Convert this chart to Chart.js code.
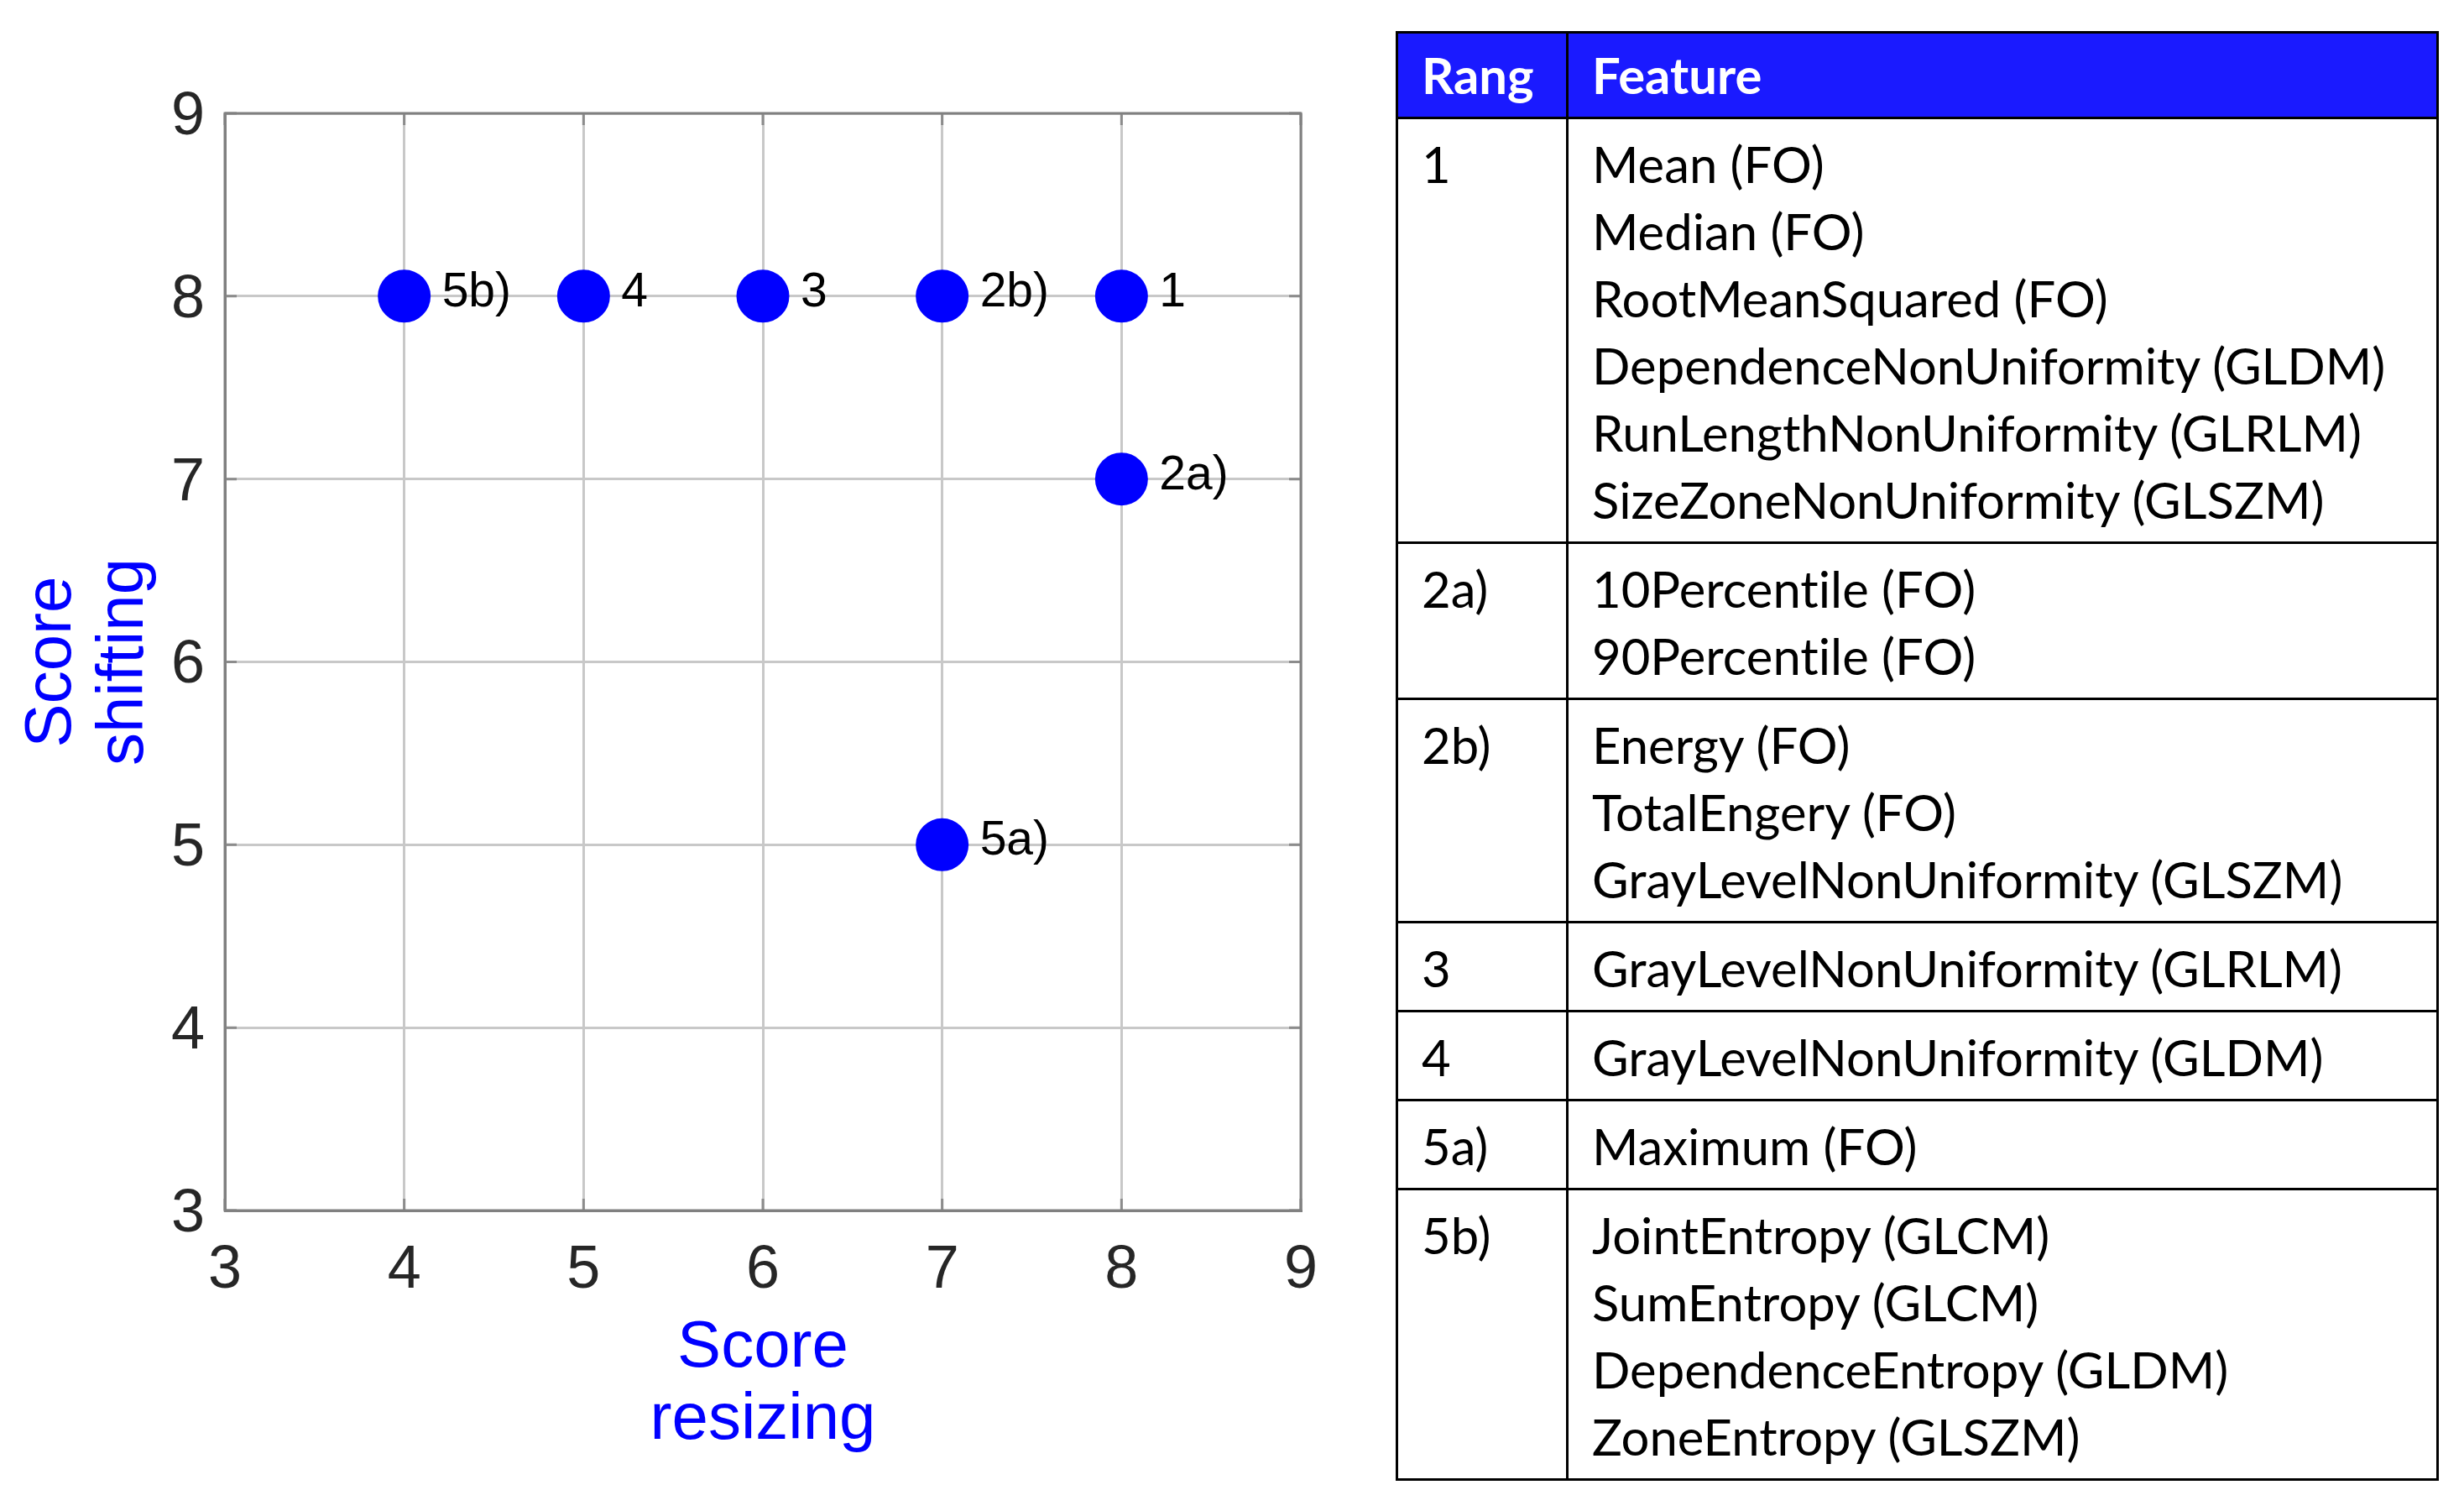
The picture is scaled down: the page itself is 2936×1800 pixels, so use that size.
<!DOCTYPE html>
<html>
<head>
<meta charset="utf-8">
<script src="https://cdn.jsdelivr.net/npm/chart.js@4.4.1/dist/chart.umd.min.js"></script>
<style>
html, body { margin: 0; padding: 0; background: #ffffff; width: 2936px; height: 1800px; overflow: hidden; }
#wrap { position: absolute; left: 0; top: 0; width: 1640px; height: 1800px; }
#tbl { position: absolute; left: 1663px; top: 37px; width: 1243px; border-collapse: collapse; font-family: Lato, "Open Sans", sans-serif; color: #000; font-variant-ligatures: none; }
#tbl th, #tbl td { border: 3px solid #000; text-align: left; vertical-align: top; padding: 13px 28px 10px 28px; line-height: 80px; }
#tbl th { background: #1a1aff; color: #fff; font-weight: bold; height: 99px; padding: 0 28px; vertical-align: middle; line-height: 99px; }
#tbl td.r { width: 144px; }
</style>
</head>
<body>
<div id="wrap"><canvas id="c" width="1640" height="1800"></canvas></div>
<table id="tbl"></table>
<script>
// ---- data ----
const pointLabels   = ['5b)', '4', '3', '2b)', '1', '2a)', '5a)'];
const scoreResizing = [4, 5, 6, 7, 8, 8, 7];
const scoreShifting = [8, 8, 8, 8, 8, 7, 5];
const axisMin = 3, axisMax = 9, axisStep = 1;
const xTitle = ['Score', 'resizing'];
const yTitle = ['Score', 'shifting'];

const tableHeader = ['Rang', 'Feature'];
const rangs = ['1', '2a)', '2b)', '3', '4', '5a)', '5b)'];
const features = [
  ['Mean (FO)', 'Median (FO)', 'RootMeanSquared (FO)', 'DependenceNonUniformity (GLDM)', 'RunLengthNonUniformity (GLRLM)', 'SizeZoneNonUniformity (GLSZM)'],
  ['10Percentile (FO)', '90Percentile (FO)'],
  ['Energy (FO)', 'TotalEngery (FO)', 'GrayLevelNonUniformity (GLSZM)'],
  ['GrayLevelNonUniformity (GLRLM)'],
  ['GrayLevelNonUniformity (GLDM)'],
  ['Maximum (FO)'],
  ['JointEntropy (GLCM)', 'SumEntropy (GLCM)', 'DependenceEntropy (GLDM)', 'ZoneEntropy (GLSZM)']
];

// ---- table ----
(function buildTable() {
  const mctx = document.createElement('canvas').getContext('2d');
  mctx.font = '100px Lato';
  const w = mctx.measureText('DependenceNonUniformity (GLDM)').width;
  const fs = 100 * 946 / w;
  const tbl = document.getElementById('tbl');
  tbl.style.fontSize = fs.toFixed(1) + 'px';
  const hr = document.createElement('tr');
  tableHeader.forEach(h => { const th = document.createElement('th'); th.textContent = h; hr.appendChild(th); });
  tbl.appendChild(hr);
  rangs.forEach((r, i) => {
    const tr = document.createElement('tr');
    const td1 = document.createElement('td'); td1.className = 'r'; td1.textContent = r;
    const td2 = document.createElement('td');
    features[i].forEach((f, k) => {
      if (k) td2.appendChild(document.createElement('br'));
      td2.appendChild(document.createTextNode(f));
    });
    tr.appendChild(td1); tr.appendChild(td2);
    tbl.appendChild(tr);
  });
})();

// ---- chart ----
const FONT = "'Liberation Sans', Arial, Helvetica, sans-serif";

const boxPlugin = {
  id: 'box',
  beforeDatasetsDraw(chart) {
    const { ctx, chartArea: a, scales } = chart;
    ctx.save();
    // inner tick marks
    ctx.strokeStyle = '#8c8c8c';
    ctx.lineWidth = 3;
    const tl = 14;
    scales.x.ticks.forEach(t => {
      const px = scales.x.getPixelForValue(t.value);
      ctx.beginPath();
      ctx.moveTo(px, a.bottom); ctx.lineTo(px, a.bottom - tl);
      ctx.moveTo(px, a.top); ctx.lineTo(px, a.top + tl);
      ctx.stroke();
    });
    scales.y.ticks.forEach(t => {
      const py = scales.y.getPixelForValue(t.value);
      ctx.beginPath();
      ctx.moveTo(a.left, py); ctx.lineTo(a.left + tl, py);
      ctx.moveTo(a.right, py); ctx.lineTo(a.right - tl, py);
      ctx.stroke();
    });
    // box
    ctx.strokeStyle = '#808080';
    ctx.lineWidth = 3;
    ctx.strokeRect(a.left, a.top, a.right - a.left, a.bottom - a.top);
    ctx.restore();
  }
};

const labelPlugin = {
  id: 'pointLabels',
  afterDatasetsDraw(chart) {
    const { ctx } = chart;
    const meta = chart.getDatasetMeta(0);
    ctx.save();
    ctx.fillStyle = '#000000';
    ctx.font = '57px ' + FONT;
    ctx.textAlign = 'left';
    ctx.textBaseline = 'alphabetic';
    meta.data.forEach((pt, i) => {
      ctx.fillText(pointLabels[i], pt.x + 45, pt.y + 12);
    });
    ctx.restore();
  }
};

new Chart(document.getElementById('c'), {
  type: 'scatter',
  data: {
    datasets: [{
      data: scoreResizing.map((x, i) => ({ x: x, y: scoreShifting[i] })),
      backgroundColor: '#0000ff',
      borderColor: '#0000ff',
      borderWidth: 0,
      pointRadius: 31.5,
      pointHoverRadius: 31.5
    }]
  },
  options: {
    responsive: false,
    animation: false,
    devicePixelRatio: 1,
    layout: { padding: { top: 135, right: 90, left: 0, bottom: 0 } },
    plugins: { legend: { display: false }, tooltip: { enabled: false } },
    scales: {
      x: {
        type: 'linear', min: axisMin, max: axisMax,
        ticks: { stepSize: axisStep, color: '#262626', font: { family: FONT, size: 72 }, padding: 29 },
        grid: { color: '#c8c8c8', lineWidth: 3, drawTicks: false },
        border: { display: true, color: '#808080', width: 3 },
        title: { display: true, text: xTitle, color: '#0000ff', font: { family: FONT, size: 78, lineHeight: 1.1 }, padding: { top: 0, bottom: 65 } },
        afterFit(s) { s.height = 358; }
      },
      y: {
        type: 'linear', min: axisMin, max: axisMax,
        ticks: { stepSize: axisStep, color: '#262626', font: { family: FONT, size: 72 }, padding: 24, labelOffset: 5 },
        grid: { color: '#c8c8c8', lineWidth: 3, drawTicks: false },
        border: { display: true, color: '#808080', width: 3 },
        title: { display: true, text: yTitle, color: '#0000ff', font: { family: FONT, size: 78, lineHeight: 1.1 }, padding: { top: 20, bottom: 0 } },
        afterFit(s) { s.width = 268; }
      }
    }
  },
  plugins: [boxPlugin, labelPlugin]
});
</script>
</body>
</html>
